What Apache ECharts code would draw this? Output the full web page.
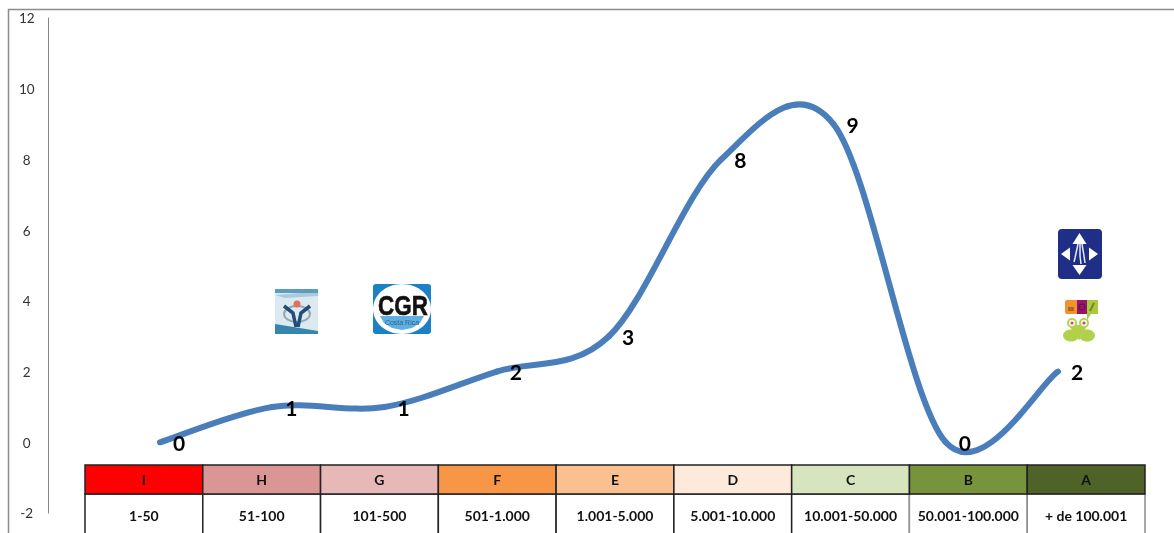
<!DOCTYPE html>
<html>
<head>
<meta charset="utf-8">
<style>html,body{margin:0;padding:0;background:#fff;overflow:hidden}#chart{width:1174px;height:533px}</style>
<script src="https://cdn.jsdelivr.net/npm/echarts@6/dist/echarts.min.js"></script>
</head>
<body>
<div id="chart"></div>
<script>
// Number of entities in each rank, lowest rank first
const grades = ['I', 'H', 'G', 'F', 'E', 'D', 'C', 'B', 'A'];
const ranges = ['1-50', '51-100', '101-500', '501-1.000', '1.001-5.000', '5.001-10.000', '10.001-50.000', '50.001-100.000', '+ de 100.001'];
const counts = [0, 1, 1, 2, 3, 8, 9, 0, 2];
const gradeColors = ['#FF0000', '#D99694', '#E6B9B8', '#F79646', '#FAC090', '#FDEADA', '#D7E4BD', '#77933C', '#4F6228'];
const rangeBorders = ['#222', '#222', '#222', '#222', '#222', '#222', '#222', '#999', '#8a8a8a'];

const TEXT_FONT = 'Lato, "Noto Sans", sans-serif';
const positions = counts.map((v, i) => [i, v]);

// Curve segment (Catmull-Rom) from point i to i + 1 plus the count label at point i
function curveItem(params, api) {
  const i = params.dataIndex;
  const at = k => api.coord(positions[Math.max(0, Math.min(positions.length - 1, k))]);
  const p0 = at(i - 1), p1 = at(i), p2 = at(i + 1), p3 = at(i + 2);
  const children = [];
  if (i < positions.length - 1) {
    children.push({
      type: 'bezierCurve',
      z2: 1,
      shape: {
        x1: p1[0], y1: p1[1], x2: p2[0], y2: p2[1],
        cpx1: p1[0] + (p2[0] - p0[0]) / 6, cpy1: p1[1] + (p2[1] - p0[1]) / 6,
        cpx2: p2[0] - (p3[0] - p1[0]) / 6, cpy2: p2[1] - (p3[1] - p1[1]) / 6
      },
      style: { stroke: '#4A7EBB', lineWidth: 6, fill: 'none', lineCap: 'round' }
    });
  }
  children.push({
    type: 'text',
    z2: 10,
    style: {
      x: p1[0] + 19, y: p1[1] + 2,
      text: String(counts[i]),
      fill: '#000',
      font: 'bold 21px ' + TEXT_FONT,
      align: 'center', verticalAlign: 'middle'
    }
  });
  return { type: 'group', children };
}

// One table cell filling its category band
function tableCell(texts, fills, strokes) {
  return function (params, api) {
    const i = params.dataIndex;
    const c = api.coord([i, 0]);
    const top = api.coord([i, 1]);
    const w = api.size([1, 0])[0];
    return {
      type: 'group',
      children: [
        {
          type: 'rect',
          shape: { x: c[0] - w / 2, y: top[1], width: w, height: c[1] - top[1] },
          style: { fill: fills[i], stroke: strokes[i], lineWidth: 1.5 }
        },
        {
          type: 'text',
          style: {
            x: c[0], y: (top[1] + c[1]) / 2 + 1,
            text: texts[i], fill: '#111',
            font: 'bold 14px ' + TEXT_FONT,
            align: 'center', verticalAlign: 'middle'
          }
        }
      ]
    };
  };
}

// Small entity emblems placed above the curve
const emblems = [
  // Frame
  { type: 'polyline', shape: { points: [[8.5, 533], [8.5, 9.5], [1174, 9.5]] }, style: { stroke: '#8c8c8c', lineWidth: 1.5, fill: 'none' } },

  // Striped square emblem
  { type: 'rect', shape: { x: 275, y: 289, width: 43, height: 45 }, style: { fill: '#dbe9f1' } },
  { type: 'rect', shape: { x: 275, y: 289, width: 43, height: 4 }, style: { fill: '#5c9dbf' } },
  { type: 'polygon', shape: { points: [[275, 295], [300, 293], [318, 293], [318, 296], [285, 298]] }, style: { fill: '#a9cbdd' } },
  { type: 'polygon', shape: { points: [[275, 324], [318, 331], [318, 334], [275, 334]] }, style: { fill: '#3585ad' } },
  { type: 'ellipse', shape: { cx: 297, cy: 314, rx: 13, ry: 8 }, style: { fill: 'none', stroke: '#9aa6ad', lineWidth: 2 } },
  { type: 'polyline', shape: { points: [[284, 306], [293, 313], [296, 327]] }, style: { stroke: '#1f4e79', lineWidth: 3.5, fill: 'none' } },
  { type: 'polyline', shape: { points: [[310, 306], [301, 313], [298, 327]] }, style: { stroke: '#1f4e79', lineWidth: 3.5, fill: 'none' } },
  { type: 'circle', shape: { cx: 297, cy: 304, r: 3.5 }, style: { fill: '#e2705f' } },

  // CGR badge
  { type: 'rect', shape: { x: 373, y: 284, width: 58, height: 50, r: 3 }, style: { fill: '#1c80c4' } },
  { type: 'ellipse', shape: { cx: 402, cy: 309, rx: 29, ry: 25 }, style: { fill: '#fff' } },
  { type: 'polygon', shape: { points: [[380, 316], [424, 316], [420, 323], [412, 328], [402, 330], [392, 328], [384, 323]] }, style: { fill: '#5fb0e0' } },
  { type: 'text', x: 403, y: 307, scaleX: 0.8, style: { x: 0, y: 0, text: 'CGR', fill: '#111', stroke: '#111', lineWidth: 0.6, font: 'bold 28px "Liberation Sans"', align: 'center', verticalAlign: 'middle' } },
  { type: 'text', style: { x: 402, y: 323, text: 'Costa Rica', fill: '#2a5f88', font: '7px "Liberation Sans"', align: 'center', verticalAlign: 'middle' } },

  // Navy arrows badge
  { type: 'rect', shape: { x: 1058, y: 229, width: 44, height: 50, r: 4 }, style: { fill: '#1f2f88' } },
  { type: 'polygon', shape: { points: [[1079.5, 233], [1072.5, 244], [1086.5, 244]] }, style: { fill: '#fff' } },
  { type: 'polygon', shape: { points: [[1079.5, 275], [1072.5, 265], [1086.5, 265]] }, style: { fill: '#fff' } },
  { type: 'polygon', shape: { points: [[1061, 254], [1070, 247.5], [1070, 260.5]] }, style: { fill: '#fff' } },
  { type: 'polygon', shape: { points: [[1098, 254], [1089, 247.5], [1089, 260.5]] }, style: { fill: '#fff' } },
  { type: 'polyline', shape: { points: [[1078, 244], [1075, 258], [1074, 262]] }, style: { stroke: '#e6e9f6', lineWidth: 1.5, fill: 'none' } },
  { type: 'polyline', shape: { points: [[1080, 243], [1080, 256], [1081, 264]] }, style: { stroke: '#e6e9f6', lineWidth: 1.5, fill: 'none' } },
  { type: 'polyline', shape: { points: [[1082, 244], [1084, 256], [1085, 263]] }, style: { stroke: '#e6e9f6', lineWidth: 1.5, fill: 'none' } },

  // Frog with speech bubble
  { type: 'rect', shape: { x: 1065, y: 300, width: 12, height: 14, r: [2, 0, 0, 2] }, style: { fill: '#f0932e' } },
  { type: 'rect', shape: { x: 1068, y: 307, width: 6, height: 4 }, style: { fill: '#b5651d' } },
  { type: 'rect', shape: { x: 1077, y: 300, width: 10, height: 14 }, style: { fill: '#97146c' } },
  { type: 'circle', shape: { cx: 1082, cy: 307, r: 3 }, style: { fill: 'none', stroke: '#5f0d44', lineWidth: 1 } },
  { type: 'polygon', shape: { points: [[1087, 300], [1098, 300], [1098, 314], [1091, 314], [1087, 320]] }, style: { fill: '#a9c93f' } },
  { type: 'line', shape: { x1: 1094, y1: 303, x2: 1090, y2: 311 }, style: { stroke: '#6f8a25', lineWidth: 2 } },
  { type: 'ellipse', shape: { cx: 1071, cy: 335.5, rx: 8, ry: 6 }, style: { fill: '#b2d04a' } },
  { type: 'ellipse', shape: { cx: 1087, cy: 335.5, rx: 8, ry: 6 }, style: { fill: '#b2d04a' } },
  { type: 'polygon', shape: { points: [[1069, 325], [1087, 325], [1082, 337], [1079, 340], [1076, 337]] }, style: { fill: '#b2d04a' } },
  { type: 'circle', shape: { cx: 1072, cy: 323, r: 5 }, style: { fill: '#b2d04a' } },
  { type: 'circle', shape: { cx: 1084, cy: 323, r: 5 }, style: { fill: '#b2d04a' } },
  { type: 'circle', shape: { cx: 1072, cy: 323, r: 3.2 }, style: { fill: '#f3f6e2' } },
  { type: 'circle', shape: { cx: 1084, cy: 323, r: 3.2 }, style: { fill: '#f3f6e2' } },
  { type: 'circle', shape: { cx: 1072, cy: 323, r: 1.5 }, style: { fill: '#e0406a' } },
  { type: 'circle', shape: { cx: 1084, cy: 323, r: 1.5 }, style: { fill: '#e0406a' } }
];

const chart = echarts.init(document.getElementById('chart'), null, { renderer: 'canvas' });

chart.setOption({
  animation: false,
  backgroundColor: '#fff',
  grid: [
    { left: 47.75, top: 18, width: 1122.5, height: 495, outerBoundsMode: 'none' },
    { left: 85, top: 465, width: 1060, height: 29, outerBoundsMode: 'none' },
    { left: 85, top: 494, width: 1060, height: 42, outerBoundsMode: 'none' }
  ],
  xAxis: [
    { gridIndex: 0, type: 'value', min: -1, max: 9, show: false },
    { gridIndex: 1, type: 'category', data: grades, show: false },
    { gridIndex: 2, type: 'category', data: ranges, show: false }
  ],
  yAxis: [
    {
      gridIndex: 0, type: 'value', min: -2, max: 12, interval: 2,
      splitLine: { show: false },
      axisTick: { show: false },
      axisLine: { show: true, onZero: false, lineStyle: { color: '#868686', width: 1 } },
      axisLabel: {
        color: '#333', fontFamily: TEXT_FONT, fontSize: 13.5, align: 'center', margin: 21,
        formatter: '{tick|{value}}',
        rich: { tick: { color: '#333', fontFamily: TEXT_FONT, fontSize: 13.5, padding: [2, 0, 0, 0] } }
      }
    },
    { gridIndex: 1, type: 'value', min: 0, max: 1, show: false },
    { gridIndex: 2, type: 'value', min: 0, max: 1, show: false }
  ],
  graphic: { elements: emblems },
  series: [
    {
      type: 'custom', xAxisIndex: 2, yAxisIndex: 2, z: 2, silent: true, clip: false,
      renderItem: tableCell(ranges, ranges.map(() => '#fff'), rangeBorders),
      encode: { x: 0 },
      data: ranges.map((r, i) => [i])
    },
    {
      type: 'custom', xAxisIndex: 1, yAxisIndex: 1, z: 3, silent: true, clip: false,
      renderItem: tableCell(grades, gradeColors, grades.map(() => '#222')),
      encode: { x: 0 },
      data: grades.map((g, i) => [i])
    },
    {
      type: 'custom', xAxisIndex: 0, yAxisIndex: 0, z: 4, silent: true, clip: false,
      renderItem: curveItem,
      encode: { x: 0, y: 1 },
      data: positions
    }
  ]
});
</script>
</body>
</html>
